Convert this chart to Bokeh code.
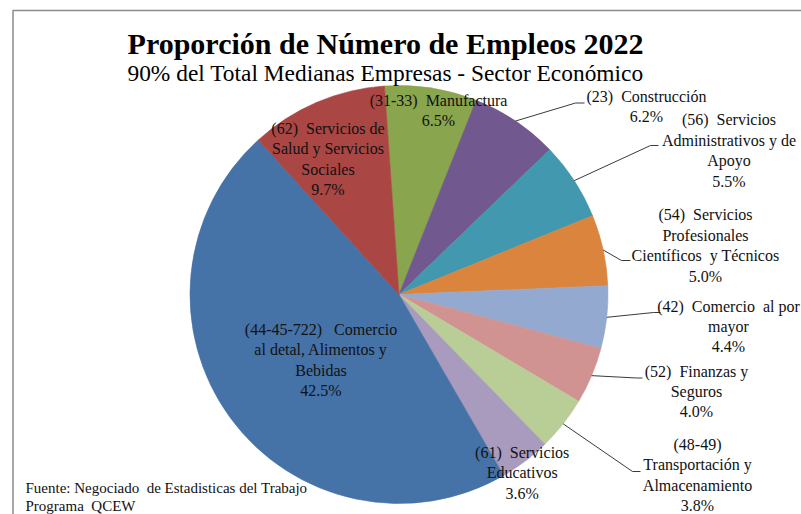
import numpy as np
from bokeh.plotting import figure
from bokeh.models import ColumnDataSource, Range1d, Label
from bokeh.core.properties import value
from bokeh.embed import file_html
from bokeh.resources import INLINE

NB = "\u00a0 "  # double space that survives SVG whitespace collapsing

# ---------------- data ----------------
sector_names = [
    f"(31-33){NB}Manufactura",
    f"(23){NB}Construcción",
    f"(56){NB}Servicios\nAdministrativos y de\nApoyo",
    f"(54){NB}Servicios\nProfesionales\nCientíficos{NB}y Técnicos",
    f"(42){NB}Comercio{NB}al por\nmayor",
    f"(52){NB}Finanzas y\nSeguros",
    "(48-49)\nTransportación y\nAlmacenamiento",
    f"(61){NB}Servicios\nEducativos",
    f"(44-45-722)\u00a0\u00a0 Comercio\nal detal, Alimentos y\nBebidas",
    f"(62){NB}Servicios de\nSalud y Servicios\nSociales",
]
shares = [6.5, 6.2, 5.5, 5.0, 4.4, 4.0, 3.8, 3.6, 42.5, 9.7]
colors = ["#89A54E", "#71588F", "#4198AF", "#DB843D", "#93A9CF",
          "#D19392", "#B9CD96", "#A99BBD", "#4572A7", "#AA4643"]

title_text = "Proporción de Número de Empleos 2022"
subtitle_text = "90% del Total Medianas Empresas - Sector Económico"
source_text = f"Fuente: Negociado{NB}de Estadisticas del Trabajo\nPrograma{NB}QCEW"

# ---------------- layout ----------------
W, H = 801, 514
CX, CY, R = 398.5, 294.0, 209.0
FIRST_ANGLE = -4.0  # degrees, clockwise from 12 o'clock

label_pos = [
    (438, 110), (646, 106), (728.5, 150), (705, 245), (728, 326),
    (696, 391), (697, 474.6), (521.7, 472.2), (320.5, 359.6), (327.5, 158.5),
]
leader_pts = [
    None,
    [(575, 102.5), (584, 102.5)],
    [(650, 145), (658, 145)],
    [(621, 260), (630, 260)],
    [(653, 312), (660, 312)],
    [(636, 377.5), (642, 377.5)],
    [(632, 471), (640, 471)],
    None, None, None,
]

vals = np.array(shares, dtype=float)
spans = vals / vals.sum() * 360.0
theta_end = FIRST_ANGLE + np.cumsum(spans)
theta_start = theta_end - spans
theta_mid = (theta_start + theta_end) / 2.0

src = ColumnDataSource(dict(
    start=np.radians(90.0 - theta_end),
    end=np.radians(90.0 - theta_start),
    color=colors,
))

p = figure(width=W, height=H, output_backend="svg", toolbar_location=None,
           x_range=Range1d(0, W), y_range=Range1d(H, 0),
           min_border=0, min_border_left=0, min_border_right=0,
           min_border_top=0, min_border_bottom=0)
p.axis.visible = False
p.grid.visible = False
p.outline_line_color = None
p.background_fill_color = "white"
p.border_fill_color = "white"

# chart area border (only top / left inside the window)
p.quad(left=[12.5], right=[W + 30], top=[10], bottom=[H + 30],
       fill_color=None, line_color="#8a8a8a", line_width=1.5)

p.wedge(x=CX, y=CY, radius=R, start_angle="start", end_angle="end",
        fill_color="color", line_color="color", line_width=0.6, source=src)

# leader lines
for i, pts in enumerate(leader_pts):
    if pts is None:
        continue
    phi = np.radians(90.0 - theta_mid[i])
    x0 = CX + R * np.cos(phi)
    y0 = CY - R * np.sin(phi)
    xs = [x0] + [q[0] for q in pts]
    ys = [y0] + [q[1] for q in pts]
    p.line(xs, ys, line_color="#3a3a3a", line_width=1)

lab_src = ColumnDataSource(dict(
    x=[q[0] for q in label_pos],
    y=[q[1] for q in label_pos],
    text=[f"{n}\n{v:.1f}%" for n, v in zip(sector_names, shares)],
))
p.text(x="x", y="y", text="text", source=lab_src,
       text_font=value("Liberation Serif"), text_font_size="16px",
       text_color="#111111", text_align="center", text_baseline="middle",
       text_line_height=1.2)

p.add_layout(Label(x=385, y=43.3, text=title_text,
                   text_font="Liberation Serif", text_font_size="30px",
                   text_font_style="bold", text_color="black",
                   text_align="center", text_baseline="alphabetic"))
p.add_layout(Label(x=385, y=72.7, text=subtitle_text,
                   text_font="Liberation Serif", text_font_size="23.4px",
                   text_color="black",
                   text_align="center", text_baseline="alphabetic"))

p.text(x=[25], y=[496.7], text=[source_text],
       text_font=value("Liberation Serif"), text_font_size="15px",
       text_color="#111111", text_align="left", text_baseline="middle",
       text_line_height=1.12)

open("out.html", "w").write(file_html(p, INLINE))
